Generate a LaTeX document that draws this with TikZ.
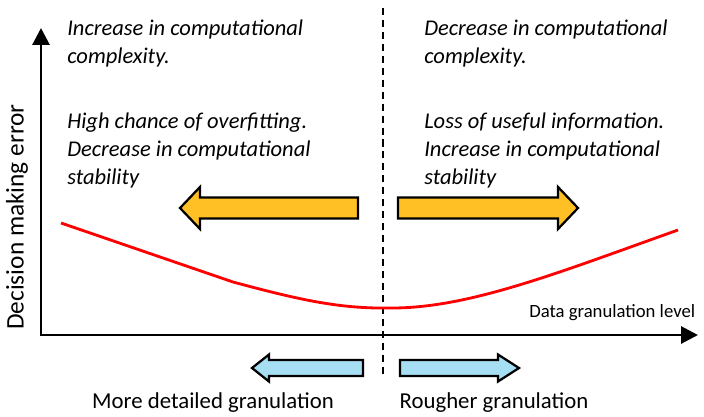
\documentclass[tikz,border=0pt]{standalone}
\usepackage{fontspec}
\setmainfont{Carlito}
\usetikzlibrary{arrows.meta, calc}
\definecolor{gold}{RGB}{255,192,38}
\definecolor{skyblue}{RGB}{166,222,244}

\begin{document}
\begin{tikzpicture}[>={Triangle[length=12pt, width=12pt]}, x=0.025cm, y=-0.025cm,
	blockarrow/.style={line width=1.6pt, draw=black, line join=miter},
	effecttext/.style={font=\fontsize{16}{19.8}\selectfont\itshape, align=left, anchor=north west, inner sep=0pt},
	granutext/.style={font=\fontsize{16.2}{19}\selectfont, inner sep=0pt, anchor=base}]
	\useasboundingbox (0,0) rectangle (704,416);
%	\draw[gray!50, dashed, step=50] (0,0) grid (704,416);
	\coordinate (origin) at (41,335);
	\coordinate (ytip) at (41,28);
	\coordinate (xtip) at (698,335);
	\draw[<->, line width=2.1pt, line join=miter] (ytip) |- (xtip);
	
	\coordinate (dtop) at (383,8);
	\coordinate (dbot) at (383,378);
	\draw[line width=.9pt, dash pattern=on 5pt off 3.5pt] (dtop) -- (dbot);
	
	% error curve
	\coordinate (c0) at (61,223);
	\coordinate (c1) at (233,282);
	\coordinate (cmin) at (392,308);
	\coordinate (c3) at (678,230);
	\draw[red, line width=2pt] (c0) -- (c1) .. controls (300,300) and (340,309) .. (cmin)
	.. controls (470,308) and (560,272) .. (c3);
	
	% effect arrows
	\draw[blockarrow, fill=gold] (358,197.5) -- ++(-158,0) -- ++(0,-10.5) -- ++(-20,21)
	-- ++(20,21) -- ++(0,-10.5) -- ++(158,0) -- cycle;
	\draw[blockarrow, fill=gold] (398,197.5) -- ++(160,0) -- ++(0,-10.5) -- ++(20,21)
	-- ++(-20,21) -- ++(0,-10.5) -- ++(-160,0) -- cycle;
	\draw[blockarrow, fill=skyblue] (363,360) -- ++(-94,0) -- ++(0,-5.5) -- ++(-17,13.5)
	-- ++(17,13.5) -- ++(0,-5.5) -- ++(94,0) -- cycle;
	\draw[blockarrow, fill=skyblue] (400,360) -- ++(98,0) -- ++(0,-5.5) -- ++(21,13.5)
	-- ++(-21,13.5) -- ++(0,-5.5) -- ++(-98,0) -- cycle;
	
	\node[effecttext] (incr) at (67,20) {Increase in computational\\complexity.};
	\node[effecttext] (over) at (67,113) {High chance of overfitting.\\Decrease in computational\\stability};
	\node[effecttext] (decr) at (424,20) {Decrease in computational\\complexity.};
	\node[effecttext] (loss) at (424,113) {Loss of useful information.\\Increase in computational\\stability};
	
	\node[font=\fontsize{18}{20}\selectfont, rotate=90] (ylab) at (17,217) {Decision making error};
	\node[font=\fontsize{13.3}{15}\selectfont, anchor=west, inner sep=0pt] (xlab) at (529,313) {Data granulation level};
	\node[granutext] (detail) at (213,408) {More detailed granulation};
	\node[granutext] (rough) at (494,408) {Rougher granulation};
\end{tikzpicture}
\end{document}
